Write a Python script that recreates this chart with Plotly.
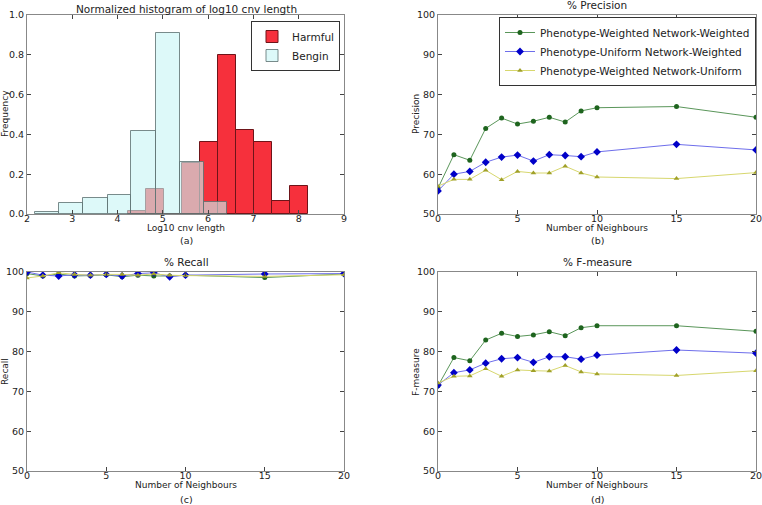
import numpy as np
import plotly.graph_objects as go

# ---------------- data ----------------
bengin_edges = [2.18, 2.71, 3.24, 3.78, 4.30, 4.84, 5.37, 5.90, 6.42]
bengin_freq = [0.008, 0.053, 0.078, 0.095, 0.415, 0.91, 0.26, 0.06]
harmful_edges = [4.24, 4.63, 5.03, 5.42, 5.82, 6.22, 6.61, 7.01, 7.40, 7.80, 8.20]
harmful_freq = [0.015, 0.125, 0.0, 0.255, 0.36, 0.80, 0.42, 0.36, 0.063, 0.14]

neighbours = [0, 1, 2, 3, 4, 5, 6, 7, 8, 9, 10, 15, 20]
series_names = ["Phenotype-Weighted Network-Weighted",
                "Phenotype-Uniform Network-Weighted",
                "Phenotype-Weighted Network-Uniform"]

precision_ww = [56.5, 64.9, 63.5, 71.5, 74.1, 72.6, 73.3, 74.3, 73.1, 75.9, 76.7, 77.0, 74.3]
precision_uw = [55.8, 60.0, 60.7, 63.0, 64.3, 64.8, 63.3, 64.9, 64.7, 64.4, 65.6, 67.5, 66.1]
precision_wu = [57.0, 58.7, 58.7, 61.0, 58.6, 60.7, 60.3, 60.3, 62.0, 60.3, 59.3, 58.9, 60.4]

recall_ww = [99.6, 99.0, 99.5, 99.0, 99.1, 99.3, 98.8, 99.2, 99.0, 99.0, 99.2, 98.6, 99.5]
recall_uw = [100.0, 99.2, 99.0, 99.3, 99.2, 99.4, 99.0, 99.6, 99.8, 98.8, 99.2, 99.5, 99.6]
recall_wu = [98.5, 99.0, 99.8, 99.4, 99.2, 99.4, 99.4, 99.2, 99.5, 99.2, 99.1, 98.9, 99.3]

fmeasure_ww = [71.4, 78.5, 77.7, 82.9, 84.6, 83.8, 84.2, 85.0, 84.0, 86.0, 86.5, 86.5, 85.1]
fmeasure_uw = [71.6, 74.7, 75.4, 77.1, 78.2, 78.5, 77.3, 78.7, 78.7, 78.1, 79.1, 80.4, 79.6]
fmeasure_wu = [72.1, 73.8, 73.9, 75.7, 73.8, 75.4, 75.2, 75.1, 76.5, 74.9, 74.4, 74.0, 75.2]

# ---------------- styles ----------------
FONT = "DejaVu Sans"
TXT = "#222222"
line_styles = [
    dict(line="rgb(90,150,90)", marker="rgb(30,100,30)", symbol="circle", size=5),
    dict(line="rgb(110,110,235)", marker="rgb(0,0,200)", symbol="diamond", size=6),
    dict(line="rgb(215,215,110)", marker="rgb(160,160,40)", symbol="triangle-up", size=5),
]

fig = go.Figure()

# histogram (bars from bin edges)
he = np.array(harmful_edges)
fig.add_trace(go.Bar(
    x=(he[:-1] + he[1:]) / 2, y=harmful_freq, width=np.diff(he),
    name="Harmful", marker=dict(color="rgb(246,48,60)",
                                line=dict(color="rgb(110,20,25)", width=1)),
    xaxis="x", yaxis="y", legend="legend"))
be = np.array(bengin_edges)
fig.add_trace(go.Bar(
    x=(be[:-1] + be[1:]) / 2, y=bengin_freq, width=np.diff(be),
    name="Bengin", marker=dict(color="rgba(200,245,245,0.62)",
                               line=dict(color="rgba(90,110,110,0.8)", width=1)),
    xaxis="x", yaxis="y", legend="legend"))

panels = [
    ("x2", "y2", [precision_ww, precision_uw, precision_wu], True),
    ("x3", "y3", [recall_ww, recall_uw, recall_wu], False),
    ("x4", "y4", [fmeasure_ww, fmeasure_uw, fmeasure_wu], False),
]
for xa, ya, series, show in panels:
    for name, vals, st in zip(series_names, series, line_styles):
        fig.add_trace(go.Scatter(
            x=neighbours, y=vals, mode="lines+markers", name=name,
            line=dict(color=st["line"], width=1),
            marker=dict(color=st["marker"], symbol=st["symbol"], size=st["size"]),
            xaxis=xa, yaxis=ya, showlegend=show, legend="legend2"))

W, H = 762, 505
def px_x(p): return p / W
def px_y(p): return 1 - p / H

left_dom = [px_x(27), px_x(344)]
right_dom = [px_x(438), px_x(756)]
top_dom = [px_y(214), px_y(15)]
bot_dom = [px_y(471), px_y(272)]

def axis(domain, anchor, rng, tickvals, ticktext=None, xax=True):
    d = dict(domain=domain, anchor=anchor, range=rng, tickvals=tickvals,
             showgrid=False, zeroline=False, showline=True, linecolor="#888888",
             linewidth=1, mirror="allticks", ticks="inside", ticklen=4,
             tickcolor="#444444", automargin=False, ticklabeloverflow="allow",
             tickfont=dict(family=FONT, size=9.5, color=TXT))
    if xax:
        d["ticklabelstandoff"] = -4
    if ticktext is not None:
        d["ticktext"] = ticktext
    return d

nb_ticks = [0, 5, 10, 15, 20]
pct_ticks = [50, 60, 70, 80, 90, 100]

fig.update_layout(
    width=W, height=H, margin=dict(l=0, r=0, t=0, b=0, autoexpand=False),
    paper_bgcolor="white", plot_bgcolor="white", barmode="overlay", bargap=0,
    font=dict(family=FONT, size=10, color=TXT),
    xaxis=axis(left_dom, "y", [2, 9], list(range(2, 10))),
    yaxis=axis(top_dom, "x", [0, 1], [0, 0.2, 0.4, 0.6, 0.8, 1.0],
               ["0.0", "0.2", "0.4", "0.6", "0.8", "1.0"], xax=False),
    xaxis2=axis(right_dom, "y2", [0, 20], nb_ticks),
    yaxis2=axis(top_dom, "x2", [50, 100], pct_ticks, xax=False),
    xaxis3=axis(left_dom, "y3", [0, 20], nb_ticks),
    yaxis3=axis(bot_dom, "x3", [50, 100], pct_ticks, xax=False),
    xaxis4=axis(right_dom, "y4", [0, 20], nb_ticks),
    yaxis4=axis(bot_dom, "x4", [50, 100], pct_ticks, xax=False),
    legend=dict(x=px_x(340), y=px_y(21), xanchor="right", yanchor="top",
                bgcolor="white", bordercolor="#333333", borderwidth=1,
                font=dict(family=FONT, size=10.5), tracegroupgap=0),
    legend2=dict(x=px_x(756), y=px_y(17), xanchor="right", yanchor="top",
                 bgcolor="white", bordercolor="#333333", borderwidth=1,
                 font=dict(family=FONT, size=10.5), tracegroupgap=0),
)

# titles, subplot tags and axis titles
ann = [
    ("Normalized histogram of log10 cnv length", 186, 9, 10.5, 0),
    ("% Precision", 597, 5, 10.5, 0),
    ("% Recall", 186, 262, 10.5, 0),
    ("% F-measure", 597, 262, 10.5, 0),
    ("(a)", 186, 240, 9.5, 0),
    ("(b)", 597, 240, 9.5, 0),
    ("(c)", 186, 499, 9.5, 0),
    ("(d)", 597, 499, 9.5, 0),
    ("Log10 cnv length", 186, 228, 9, 0),
    ("Number of Neighbours", 597, 228, 9, 0),
    ("Number of Neighbours", 186, 485, 9, 0),
    ("Number of Neighbours", 597, 485, 9, 0),
    ("Frequency", 5, 114, 9, -90),
    ("Precision", 416, 114, 9, -90),
    ("Recall", 5, 372, 9, -90),
    ("F-measure", 416, 372, 9, -90),
]
for text, x, y, s, ang in ann:
    fig.add_annotation(text=text, x=px_x(x), y=px_y(y), xref="paper", yref="paper",
                       showarrow=False, xanchor="center", yanchor="middle",
                       textangle=ang, font=dict(family=FONT, size=s, color=TXT))

fig.write_html("out.html", config={"displayModeBar": False},
               post_script="document.body.style.margin='0';document.body.style.overflow='hidden';")
